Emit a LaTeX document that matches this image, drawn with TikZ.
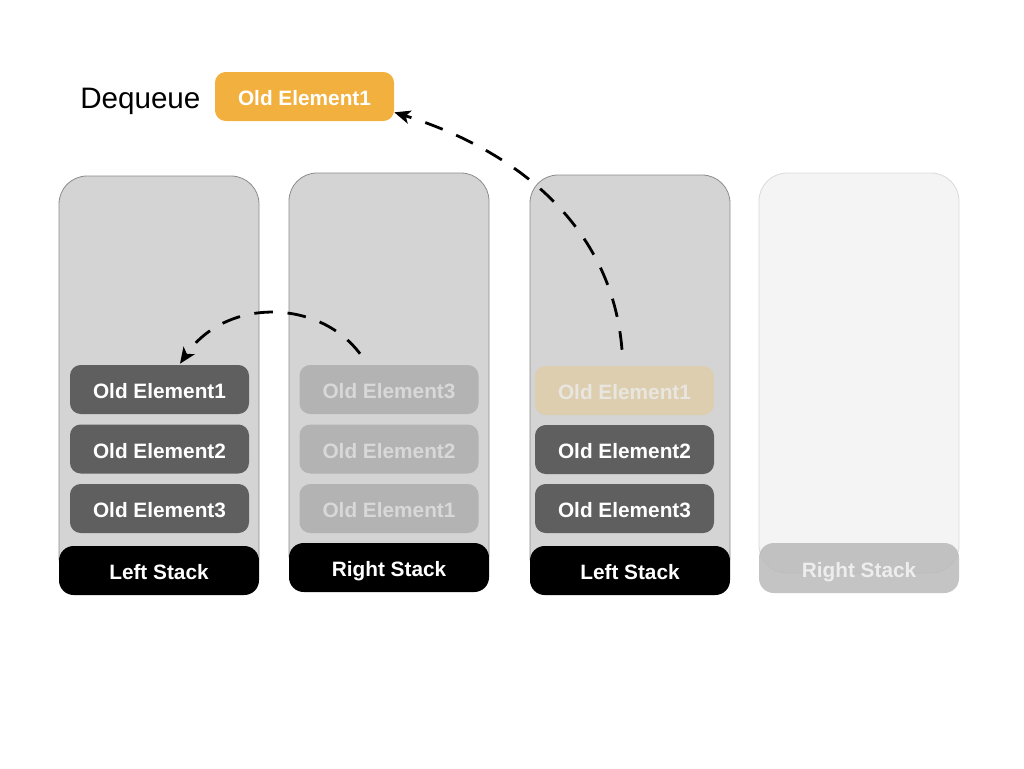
\documentclass[tikz,border=0pt]{standalone}
\usepackage{fontspec}
\setmainfont{Liberation Sans}
\usetikzlibrary{arrows.meta,calc}
\definecolor{boxfill}{HTML}{D4D4D4}
\definecolor{boxdraw}{HTML}{8C8C8C}
\definecolor{darkel}{HTML}{5F5F5F}
\definecolor{fadeel}{HTML}{B3B3B3}
\definecolor{fadetxt}{HTML}{D8D8D8}
\definecolor{tanel}{HTML}{DDCEB0}
\definecolor{tantxt}{HTML}{E9E6E0}
\definecolor{orangeel}{HTML}{F2B13E}
\definecolor{ghostfill}{HTML}{F4F4F4}
\definecolor{ghostdraw}{HTML}{DADADA}
\definecolor{ghostlab}{HTML}{B5B5B5}
\definecolor{ghosttxt}{HTML}{EDEDED}
\tikzset{
  container/.style={draw=boxdraw, line width=0.6pt, fill=boxfill, rounded corners=21pt, minimum width=150pt, inner sep=0pt},
  ghost/.style={draw=ghostdraw, line width=0.6pt, fill=ghostfill, rounded corners=21pt, minimum width=150pt, inner sep=0pt},
  stacklab/.style={fill=black, text=white, rounded corners=11pt, minimum width=150pt, minimum height=36.75pt, inner sep=0pt, font=\bfseries\fontsize{15.6pt}{18pt}\selectfont, text height=13.6pt, text depth=0pt},
  elem/.style={rounded corners=8pt, minimum width=134.25pt, minimum height=36.75pt, inner sep=0pt, font=\bfseries\fontsize{15.6pt}{18pt}\selectfont, text height=13.6pt, text depth=0pt},
  darkbox/.style={elem, fill=darkel, text=white},
  fadebox/.style={elem, fill=fadeel, text=fadetxt},
  tanbox/.style={elem, fill=tanel, text=tantxt},
  orangebox/.style={elem, fill=orangeel, text=white},
  movearrow/.style={line width=2.1pt, dash pattern=on 14pt off 11pt, -{Stealth[length=12pt,width=10pt,inset=3pt]}},
}
\begin{document}
\begin{tikzpicture}[x=0.75pt,y=-0.75pt]
\useasboundingbox (0,0) rectangle (1024,768);
% containers
\node[container, minimum height=306.75pt] (c1) at (159,380.5) {};
\node[container, minimum height=306.75pt] (c2) at (389,377.5) {};
\node[container, minimum height=307.5pt] (c3) at (630,380) {};
\node[ghost, minimum height=300pt] (c4) at (859,373) {};
% stack labels
\node[stacklab] (l1) at (159,570.5) {Left Stack};
\node[stacklab] (l2) at (389,567.5) {Right Stack};
\node[stacklab] (l3) at (630,570.5) {Left Stack};
\node[stacklab, fill=ghostlab, fill opacity=0.8, text opacity=1, text=ghosttxt, minimum height=37.5pt] (l4) at (859,568) {Right Stack};
% elements of first left stack
\node[darkbox] (a1) at (159.5,389.5) {Old Element1};
\node[darkbox] (a2) at (159.5,449) {Old Element2};
\node[darkbox] (a3) at (159.5,508.5) {Old Element3};
% elements of first right stack (faded)
\node[fadebox] (b1) at (389,389.5) {Old Element3};
\node[fadebox] (b2) at (389,449) {Old Element2};
\node[fadebox] (b3) at (389,508.5) {Old Element1};
% elements of second left stack
\node[tanbox] (d1) at (624.5,390.5) {Old Element1};
\node[darkbox] (d2) at (624.5,449.5) {Old Element2};
\node[darkbox] (d3) at (624.5,508.5) {Old Element3};
% dequeue
\node[anchor=base west, font=\fontsize{22.2pt}{26pt}\selectfont, inner sep=0pt] (dq) at (80,108) {Dequeue};
\node[orangebox] (oe) at (304.5,96.5) {Old Element1};
% arrows
\draw[movearrow] ($(d1.north)+(-2.5,-16)$) .. controls (612,225) and (515,150) .. (oe.-10);
\draw[movearrow] ($(b1.north)+(-29,-11)$) .. controls (318,298) and (225,298) .. ($(a1.north)+(20.5,-1)$);
\end{tikzpicture}
\end{document}
